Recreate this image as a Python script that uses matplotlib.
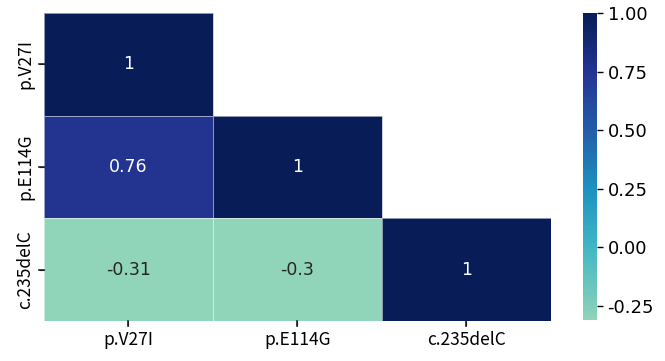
import numpy as np
import matplotlib
matplotlib.use("Agg")
import matplotlib.pyplot as plt
from matplotlib.lines import Line2D
from matplotlib.ticker import FixedLocator, FormatStrFormatter
import seaborn as sns

# 변이 간 상관계수
labels = ["p.V27I", "p.E114G", "c.235delC"]
corr = np.array([
    [1.00, 0.76, -0.31],
    [0.76, 1.00, -0.30],
    [-0.31, -0.30, 1.00],
])
cbar_ticks = [-0.25, 0.0, 0.25, 0.5, 0.75, 1.0]

# 위쪽 삼각형 가리기
mask = np.triu(np.ones_like(corr, dtype=bool), k=1)

fig = plt.figure(figsize=(6.65, 3.61), dpi=100)
ax = fig.add_axes([0.066, 0.111, 0.762, 0.853])
cax = fig.add_axes([0.877, 0.114, 0.021, 0.85])

sns.heatmap(corr, mask=mask, annot=True, cmap="YlGnBu", center=0,
            linewidths=0.6, linecolor="white", ax=ax, cbar_ax=cax,
            xticklabels=labels, yticklabels=labels,
            annot_kws={"fontsize": 12.5})
for c in ax.collections:
    c.set_edgecolor((1, 1, 1, 0.55))

ax.tick_params(axis="y", rotation=90)
for lab in ax.get_xticklabels() + ax.get_yticklabels():
    lab.set_family(["Noto Sans CJK SC", "DejaVu Sans"])
    lab.set_fontsize(12.5)
for lab in ax.get_yticklabels():
    lab.set_va("center")

cax.yaxis.set_major_locator(FixedLocator(cbar_ticks))
cax.yaxis.set_major_formatter(FormatStrFormatter("%.2f"))
cax.tick_params(labelsize=13, length=4, width=1)

# 히트맵 눈금을 그림 좌표에서 직접 그림
fig.canvas.draw()
inv = fig.transFigure.inverted()
x0, y0 = ax.transAxes.transform((0, 0))
tick_len = 5
for xv in ax.get_xticks():
    px, _ = ax.transData.transform((xv, 0))
    (fx1, fy1), (fx2, fy2) = inv.transform([(px, y0), (px, y0 - tick_len)])
    fig.add_artist(Line2D([fx1, fx2], [fy1, fy2], transform=fig.transFigure,
                          color="#222222", linewidth=1.2, zorder=10))
for yv in ax.get_yticks():
    _, py = ax.transData.transform((0, yv))
    (fx1, fy1), (fx2, fy2) = inv.transform([(x0, py), (x0 - tick_len, py)])
    fig.add_artist(Line2D([fx1, fx2], [fy1, fy2], transform=fig.transFigure,
                          color="#222222", linewidth=1.2, zorder=10))

fig.savefig("out.png", dpi=100)
